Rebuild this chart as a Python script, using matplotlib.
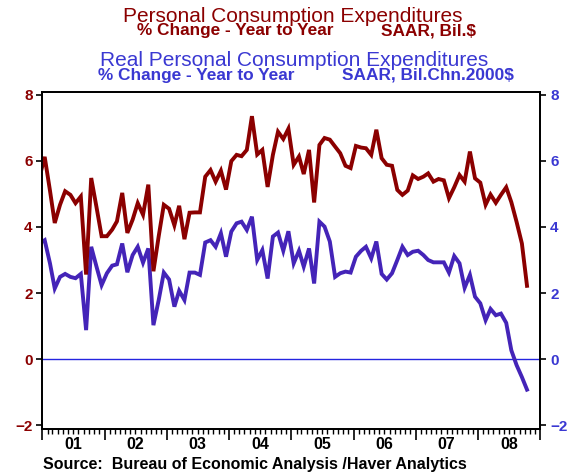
import matplotlib
matplotlib.use("Agg")
import matplotlib.pyplot as plt
import matplotlib.dates as mdates
import matplotlib.transforms as mtransforms
import pandas as pd

# ---- data (monthly, Dec 2000 .. Oct 2008) ----
months = pd.date_range("2000-12-01", periods=95, freq="MS") + pd.Timedelta(days=14)

pce_nominal = [5.50,
    6.12, 5.10, 4.12, 4.67, 5.08, 4.97, 4.72, 4.92, 2.56, 5.48, 4.60, 3.72,
    3.72, 3.92, 4.17, 5.03, 3.82, 4.22, 4.72, 4.37, 5.28, 2.66, 3.72, 4.67,
    4.55, 4.05, 4.64, 3.63, 4.43, 4.44, 4.44, 5.52, 5.72, 5.37, 5.70, 5.13,
    5.99, 6.18, 6.14, 6.33, 7.35, 6.19, 6.33, 5.21, 6.18, 6.88, 6.66, 6.97,
    5.88, 6.13, 5.60, 6.33, 4.74, 6.48, 6.69, 6.64, 6.43, 6.23, 5.85, 5.78,
    6.45, 6.40, 6.38, 6.18, 6.94, 6.08, 5.88, 5.85, 5.12, 4.97, 5.10, 5.56,
    5.45, 5.52, 5.62, 5.37, 5.45, 5.41, 4.87, 5.20, 5.57, 5.37, 6.28, 5.47,
    5.34, 4.67, 4.98, 4.73, 4.97, 5.20, 4.75, 4.15, 3.50, 2.22]

pce_real = [3.50,
    3.60, 2.90, 2.14, 2.49, 2.58, 2.49, 2.45, 2.58, 0.88, 3.40, 2.80, 2.24,
    2.60, 2.83, 2.87, 3.50, 2.63, 3.15, 3.40, 2.92, 3.35, 1.03, 1.79, 2.62,
    2.41, 1.59, 2.07, 1.79, 2.62, 2.62, 2.55, 3.53, 3.60, 3.40, 3.81, 3.10,
    3.86, 4.11, 4.16, 3.91, 4.31, 3.00, 3.30, 2.44, 3.71, 3.83, 3.28, 3.87,
    2.90, 3.28, 2.80, 3.35, 2.29, 4.16, 4.01, 3.56, 2.49, 2.60, 2.65, 2.62,
    3.10, 3.28, 3.40, 3.05, 3.56, 2.58, 2.41, 2.60, 3.00, 3.40, 3.15, 3.25,
    3.28, 3.15, 3.00, 2.93, 2.93, 2.93, 2.62, 3.12, 2.90, 2.16, 2.55, 1.89,
    1.69, 1.18, 1.52, 1.33, 1.38, 1.10, 0.27, -0.18, -0.54, -0.92]

year_labels = ["01", "02", "03", "04", "05", "06", "07", "08"]
yticks = [-2, 0, 2, 4, 6, 8]

RED = "#8B0000"
BLUE_LINE = "#4424B8"
BLUE_TXT = "#3A38D2"
ZERO = "#2424E0"
FONT = "Liberation Sans"

W, H = 574, 473
fig = plt.figure(figsize=(W / 100, H / 100), dpi=100)
fig.patch.set_facecolor("white")

left, right, top, bottom = 42.3, 540.3, 91.7, 429.0
ax = fig.add_axes([left / W, 1 - bottom / H, (right - left) / W, (bottom - top) / H])
ax2 = ax.twinx()

ax.axhline(0, color=ZERO, lw=1.0, zorder=1)
ax.plot(months, pce_real, color=BLUE_LINE, lw=2.8, zorder=2, solid_joinstyle="miter")
ax.plot(months, pce_nominal, color=RED, lw=2.8, zorder=3, solid_joinstyle="miter")

x0, x1 = pd.Timestamp("2001-01-01"), pd.Timestamp("2009-01-01")
for a in (ax, ax2):
    a.set_ylim(-2.11, 8.09)
    a.set_yticks(yticks)
    a.set_xlim(x0, x1)
ax.xaxis.set_major_locator(mdates.YearLocator())
ax.xaxis.set_minor_locator(mdates.MonthLocator())
ax.xaxis.set_major_formatter(plt.NullFormatter())
ax.tick_params(axis="x", which="major", direction="out", length=8, width=1.2, color="black")
ax.tick_params(axis="x", which="minor", direction="out", length=3.5, width=1.0, color="black")

ax.tick_params(axis="y", direction="out", length=4, width=1.2, color="black",
               labelcolor=RED, pad=3)
ax2.tick_params(axis="y", direction="out", length=4, width=1.2, color="black",
                labelcolor=BLUE_TXT, pad=3)
for lab in ax.get_yticklabels():
    lab.set_fontfamily(FONT); lab.set_fontweight("bold"); lab.set_fontsize(11)
for lab in ax2.get_yticklabels():
    lab.set_fontfamily(FONT); lab.set_fontweight("bold"); lab.set_fontsize(11)

for a in (ax, ax2):
    for s in a.spines.values():
        s.set_linewidth(1.3)
        s.set_color("black")

trans = mtransforms.blended_transform_factory(ax.transData, ax.transAxes)
for k, lab in enumerate(year_labels):
    xm = pd.Timestamp(f"{2001 + k}-07-01")
    ax.text(xm, -0.024, lab, transform=trans, ha="center", va="top",
            fontsize=11.5, fontweight="bold", family=FONT, color="black")

def ft(x, y, s, **kw):
    fig.text(x / W, 1 - y / H, s, family=FONT, **kw)

ft(293, 21.5, "Personal Consumption Expenditures", fontsize=15, color=RED,
   ha="center", va="baseline")
ft(137, 35, "% Change - Year to Year", fontsize=12.4, fontweight="bold", color=RED,
   ha="left", va="baseline")
ft(476, 35, "SAAR, Bil.$", fontsize=12.4, fontweight="bold", color=RED,
   ha="right", va="baseline")
ft(294, 66.5, "Real Personal Consumption Expenditures", fontsize=15, color=BLUE_TXT,
   ha="center", va="baseline")
ft(98, 80, "% Change - Year to Year", fontsize=12.4, fontweight="bold", color=BLUE_TXT,
   ha="left", va="baseline")
ft(514, 80, "SAAR, Bil.Chn.2000$", fontsize=12.4, fontweight="bold", color=BLUE_TXT,
   ha="right", va="baseline")
ft(43, 469, "Source:  Bureau of Economic Analysis /Haver Analytics", fontsize=11.5,
   fontweight="bold", color="black", ha="left", va="baseline")

fig.savefig("out.png", dpi=100, facecolor="white")
